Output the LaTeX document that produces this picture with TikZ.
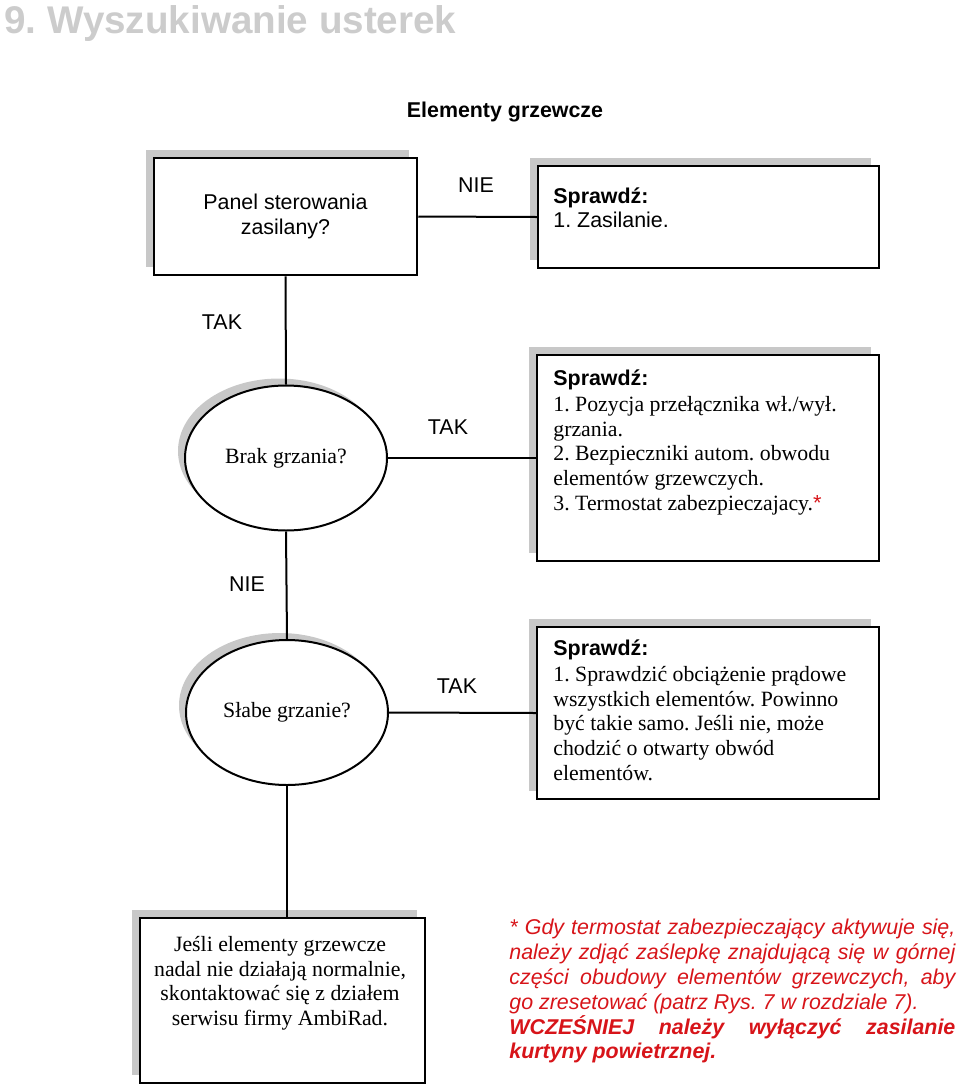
\documentclass[tikz,border=0pt]{standalone}
\usepackage{fontspec}
\setmainfont{Liberation Sans}
\newfontfamily\arlfont{Liberation Sans}
\newfontfamily\tmsfont{Liberation Serif}
\usetikzlibrary{shapes.geometric,shadows}
\definecolor{shadowgray}{RGB}{200,200,200}
\definecolor{titlegray}{RGB}{204,204,204}
\definecolor{notered}{RGB}{215,20,25}
\frenchspacing

\begin{document}
\begin{tikzpicture}[x=0.5pt, y=-0.5pt,
  box/.style={draw, rectangle, line width=1.25pt, fill=white, inner sep=0pt,
    drop shadow={shadow xshift=-4pt, shadow yshift=4pt, fill=shadowgray, opacity=1}},
  oval/.style={draw, ellipse, line width=1pt, fill=white, inner sep=0pt,
    minimum width=101pt, minimum height=72.5pt,
    font=\fontsize{10.9}{12.3}\selectfont\tmsfont,
    drop shadow={shadow xshift=-3.5pt, shadow yshift=3.5pt, fill=shadowgray, opacity=1}},
  wire/.style={line width=1pt},
  lbl/.style={inner sep=0pt, font=\fontsize{10.7}{12.3}\selectfont},
  chk/.style={anchor=north west, align=left, inner sep=0pt, font=\fontsize{10.9}{12.3}\selectfont\tmsfont}]
\useasboundingbox (0,0) rectangle (960,1088);

% Headings
\node[anchor=base west, inner sep=0pt, text=titlegray, font=\fontsize{19.3}{23}\selectfont\bfseries] (title) at (4,33) {9. Wyszukiwanie usterek};
\node[anchor=base, inner sep=0pt, font=\fontsize{10.7}{12.3}\selectfont\bfseries] (heading) at (505,117) {Elementy grzewcze};

% Question boxes and ovals
\node[box, minimum width=131.5pt, minimum height=58.5pt, align=center, font=\fontsize{10.7}{12.5}\selectfont] (panel) at (285.5,216.5) {Panel sterowania\\zasilany?};
\node[oval] (brak) at (286,458) {Brak grzania?};
\node[oval] (slabe) at (287,712.5) {Słabe grzanie?};

% Check boxes
\node[box, minimum width=170.5pt, minimum height=51pt] (zasilanie) at (708.5,217) {};
\node[box, minimum width=171pt, minimum height=103pt] (brakchk) at (708,458) {};
\node[box, minimum width=171pt, minimum height=86pt] (slabechk) at (708,713) {};
\node[box, minimum width=142.5pt, minimum height=82.5pt] (serwis) at (282.5,1000.5) {};

% Box texts
\node[chk, font=\fontsize{10.7}{12.1}\selectfont] (zasilanie-txt) at (553,187) {{\bfseries Sprawdź:}\\1. Zasilanie.};
\node[chk] (brakchk-txt) at (553,369) {{\arlfont\fontsize{10.7}{12.3}\selectfont\bfseries Sprawdź:}\\[1pt]
  1. Pozycja przełącznika wł./wył.\\grzania.\\2. Bezpieczniki autom. obwodu\\elementów grzewczych.\\3. Termostat zabezpieczajacy.{\color{notered}\arlfont *}};
\node[chk] (slabechk-txt) at (553,639) {{\arlfont\fontsize{10.7}{12.3}\selectfont\bfseries Sprawdź:}\\[1pt]
  1. Sprawdzić obciążenie prądowe\\wszystkich elementów. Powinno\\być takie samo. Jeśli nie, może\\chodzić o otwarty obwód\\elementów.};
\node[chk, anchor=north, align=center] (serwis-txt) at (280,936) {Jeśli elementy grzewcze\\nadal nie działają normalnie,\\skontaktować się z działem\\serwisu firmy AmbiRad.};

% Connectors
\draw[wire] (panel.east) -- (zasilanie.west);
\draw[wire] (panel.south) -- (brak.north);
\draw[wire] (brak.east) -- (brakchk.west);
\draw[wire] (brak.south) -- (slabe.north);
\draw[wire] (slabe.east) -- (slabechk.west);
\draw[wire] (slabe.south) -- (slabe.south |- serwis.north);

% Labels
\node[lbl] (nie1) at (476,185) {NIE};
\node[lbl] (tak1) at (222,322) {TAK};
\node[lbl] (tak2) at (448,427) {TAK};
\node[lbl] (nie2) at (247,584) {NIE};
\node[lbl] (tak3) at (457,686) {TAK};

% Note
\node[anchor=north west, align=left, inner sep=0pt, text=notered, font=\fontsize{10.7}{12.4}\selectfont\itshape] (note) at (509,919)
  {\makebox[223pt][s]{* Gdy termostat zabezpieczający aktywuje się,}\\
   \makebox[223pt][s]{należy zdjąć zaślepkę znajdującą się w górnej}\\
   \makebox[223pt][s]{części obudowy elementów grzewczych, aby}\\
   go zresetować (patrz Rys. 7 w rozdziale 7).\\
   \makebox[223pt][s]{\bfseries WCZEŚNIEJ należy wyłączyć zasilanie}\\
   {\bfseries kurtyny powietrznej.}};

\end{tikzpicture}
\end{document}
